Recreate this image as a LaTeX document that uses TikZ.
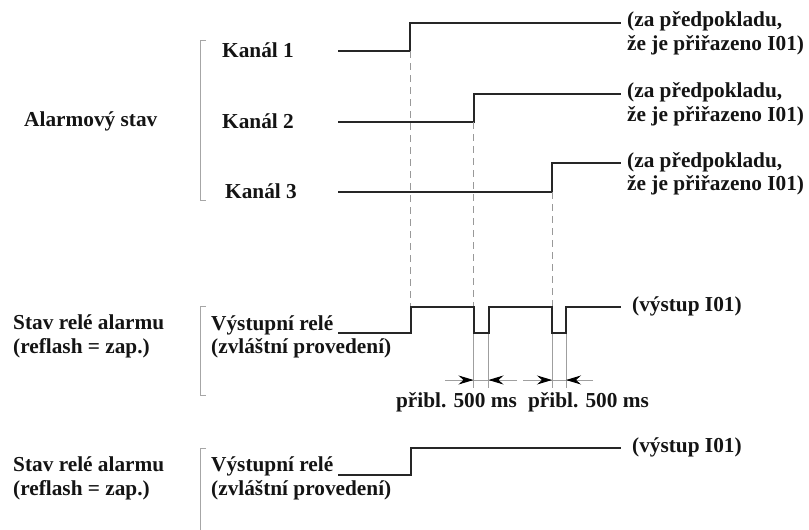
\documentclass[tikz,border=0pt]{standalone}
\usepackage{fontspec}
\setmainfont{Liberation Serif}
\usetikzlibrary{arrows.meta}
\tikzset{
  lbl/.style={font=\fontsize{21.3}{23.5}\selectfont\bfseries, inner sep=0pt, text=black!92},
  wave/.style={line width=2pt, draw=black!85, line join=miter},
  guide/.style={draw=gray!80, line width=0.9pt, dash pattern=on 7pt off 5pt},
  thinline/.style={draw=gray!75, line width=0.9pt},
  brk/.style={draw=gray!70, line width=0.9pt},
  dimarrow/.style={thinline, -{Stealth[length=15pt, width=9pt, inset=5pt, color=black]}}
}
\begin{document}
\begin{tikzpicture}[x=1pt, y=-1pt]
\useasboundingbox (0,0) rectangle (809,530);

% ---- Alarm state ----
\node[lbl, anchor=west] (alarm) at (24,121) {Alarmový stav};
\draw[brk] (206,40.5) -- (200,40.5) -- (200,200) -- (206,200);
\node[lbl, anchor=west] (k1) at (222,50) {Kanál 1};
\node[lbl, anchor=west] (k2) at (222,121) {Kanál 2};
\node[lbl, anchor=west] (k3) at (225,191) {Kanál 3};

\draw[wave] (338,50.5) -- (410,50.5) -- (410,22.5) -- (621,22.5);
\draw[wave] (338,121.5) -- (473.5,121.5) -- (473.5,93.5) -- (621,93.5);
\draw[wave] (338,191.5) -- (552,191.5) -- (552,163) -- (621,163);

\node[lbl, anchor=west, align=left] (n1) at (627,33.5) {(za předpokladu,\\že je přiřazeno I01)};
\node[lbl, anchor=west, align=left] (n2) at (627,104.5) {(za předpokladu,\\že je přiřazeno I01)};
\node[lbl, anchor=west, align=left] (n3) at (627,174) {(za předpokladu,\\že je přiřazeno I01)};

% dashed guides
\draw[guide] (410,51) -- (410,306);
\draw[guide] (473.5,122) -- (473.5,306);
\draw[guide] (552,192) -- (552,306);

% ---- Relay (reflash) ----
\node[lbl, anchor=west, align=left] (s1) at (13,336.5) {Stav relé alarmu\\(reflash = zap.)};
\draw[brk] (206,306.5) -- (200,306.5) -- (200,395) -- (206,395);
\node[lbl, anchor=west, align=left] (v1) at (211,337) {Výstupní relé\\(zvláštní provedení)};
\draw[wave] (338,333) -- (410.5,333) -- (410.5,306.5) -- (473.5,306.5) -- (473.5,333)
  -- (488.5,333) -- (488.5,306.5) -- (552,306.5) -- (552,333) -- (566,333) -- (566,306.5) -- (621,306.5);
\node[lbl, anchor=west] (o1) at (632,306) {(výstup I01)};

% timing marks
\foreach \xx in {473.5,488.5,552,566} \draw[thinline] (\xx,334) -- (\xx,388);
\draw[thinline] (445,380) -- (517,380);
\draw[thinline] (523,380) -- (593,380);
\draw[dimarrow] (445,380) -- (473.5,380);
\draw[dimarrow] (517,380) -- (488.5,380);
\draw[dimarrow] (523,380) -- (552,380);
\draw[dimarrow] (593,380) -- (566,380);
\node[lbl] (t1) at (456.5,402) {přibl. 500 ms};
\node[lbl] (t2) at (588.5,402) {přibl. 500 ms};

% ---- Relay (second) ----
\node[lbl, anchor=west, align=left] (s2) at (13,478.5) {Stav relé alarmu\\(reflash = zap.)};
\draw[brk] (206,448) -- (200,448) -- (200,530);
\node[lbl, anchor=west, align=left] (v2) at (211,478.5) {Výstupní relé\\(zvláštní provedení)};
\draw[wave] (338,475) -- (410.5,475) -- (410.5,448) -- (621,448);
\node[lbl, anchor=west] (o2) at (632,447.5) {(výstup I01)};
\end{tikzpicture}
\end{document}
